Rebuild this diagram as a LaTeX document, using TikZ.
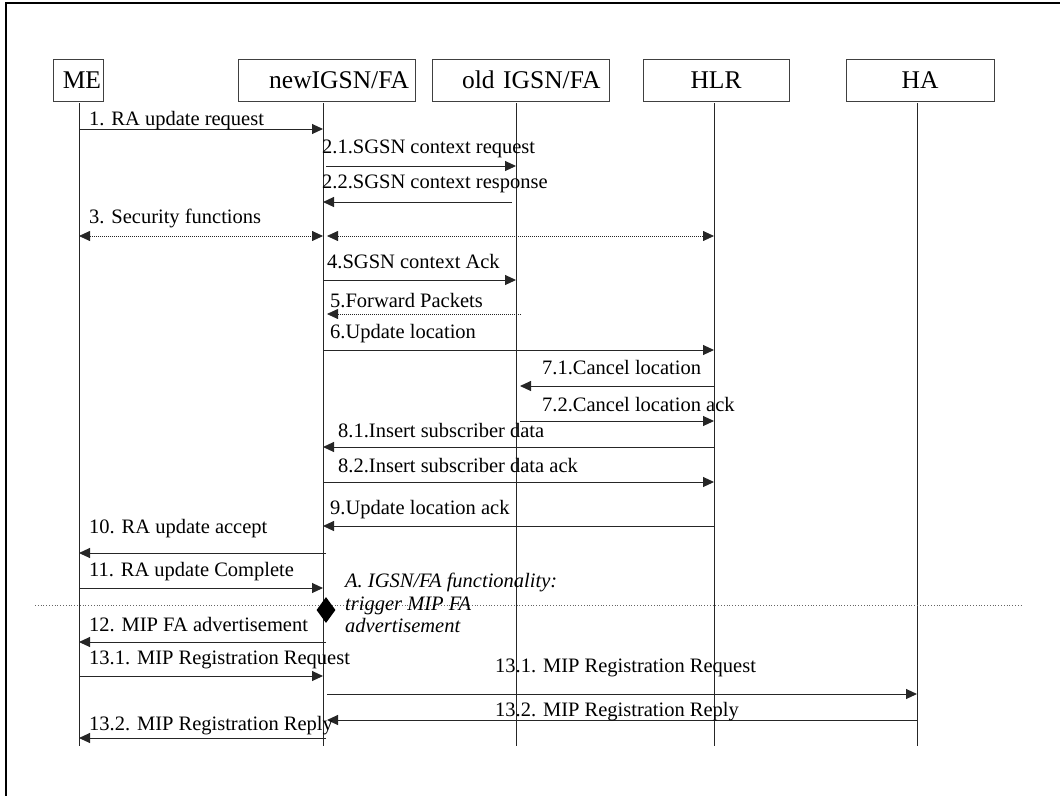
\documentclass[tikz,border=0pt]{standalone}
\usepackage{fontspec}
\setmainfont{Liberation Serif}
\usetikzlibrary{arrows.meta,shapes.geometric}

\begin{document}
\begin{tikzpicture}[x=1pt,y=-1pt,
	box/.style={draw=black!75,line width=1pt,minimum height=42pt,inner ysep=0pt,font=\fontsize{25.5}{28}\selectfont},
	life/.style={draw=black!85,line width=1pt},
	msg/.style={draw=black!85,line width=1pt,-{Triangle[length=11pt,width=10pt]}},
	dmsg/.style={msg,densely dotted,line width=0.8pt},
	both/.style={dmsg,{Triangle[length=11pt,width=10pt]}-{Triangle[length=11pt,width=10pt]}},
	lbl/.style={anchor=west,inner sep=0pt,font=\fontsize{20.5}{24}\selectfont},
	note/.style={anchor=west,inner sep=0pt,align=left,font=\fontsize{20.5}{22.5}\selectfont\itshape}]
\useasboundingbox (0,0) rectangle (1060,796);
\draw[line width=2.5pt] (1060,3) -- (6,3) -- (6,796);

% entities
\node[box,text width=46pt,inner xsep=2pt,align=right]		(me)	at (78,80)		{ME};
\node[box,text width=165pt,inner xsep=6pt,align=right]		(nw)	at (326.5,80)	{newIGSN/FA};
\node[box,text width=160pt,inner xsep=8.5pt,align=right]	(old)	at (520.5,80)	{old IGSN/FA};
\node[box,minimum width=146pt]								(hlr)	at (716,80)		{HLR};
\node[box,minimum width=148pt]								(ha)	at (920,80)		{HA};

\coordinate (lme)	at (79,103);
\coordinate (lnw)	at (323,103);
\coordinate (lold)	at (516,103);
\coordinate (lhlr)	at (714,103);
\coordinate (lha)	at (917,103);
\foreach \l in {lme,lnw,lold,lhlr,lha}
	\draw[life] (\l) -- (\l |- 0,746);

% messages
\draw[msg]	(lme |- 0,129)					-- (lnw |- 0,129);
\node[lbl]	(m1)	at (89,121)		{1. RA update request};
\draw[msg]	([xshift=3pt]lnw |- 0,166)		-- (lold |- 0,166);
\node[lbl]	(m21)	at (322,149)	{2.1.SGSN context request};
\draw[msg]	([xshift=-4pt]lold |- 0,202)	-- (lnw |- 0,202);
\node[lbl]	(m22)	at (322,184)	{2.2.SGSN context response};
\draw[both]	(lme |- 0,236)					-- (lnw |- 0,236);
\draw[both]	([xshift=4pt]lnw |- 0,236)		-- (lhlr |- 0,236);
\node[lbl]	(m3)	at (89,218)		{3. Security functions};
\draw[msg]	(lnw |- 0,280)					-- (lold |- 0,280);
\node[lbl]	(m4)	at (327,262)	{4.SGSN context Ack};
\draw[dmsg]	([xshift=5pt]lold |- 0,314)		-- ([xshift=4pt]lnw |- 0,314);
\node[lbl]	(m5)	at (330,301)	{5.Forward Packets};
\draw[msg]	(lnw |- 0,350)					-- (lhlr |- 0,350);
\node[lbl]	(m6)	at (330,334)	{6.Update location};
\draw[msg]	(lhlr |- 0,386)					-- ([xshift=4pt]lold |- 0,386);
\node[lbl]	(m71)	at (542,368)	{7.1.Cancel location};
\draw[msg]	([xshift=4pt]lold |- 0,421)		-- (lhlr |- 0,421);
\node[lbl]	(m72)	at (542,405)	{7.2.Cancel location ack};
\draw[msg]	(lhlr |- 0,447)					-- (lnw |- 0,447);
\node[lbl]	(m81)	at (338,431)	{8.1.Insert subscriber data};
\draw[msg]	(lnw |- 0,482)					-- (lhlr |- 0,482);
\node[lbl]	(m82)	at (338,466)	{8.2.Insert subscriber data ack};
\draw[msg]	(lhlr |- 0,526)					-- (lnw |- 0,526);
\node[lbl]	(m9)	at (330,510)	{9.Update location ack};
\draw[msg]	([xshift=3pt]lnw |- 0,553)		-- (lme |- 0,553);
\node[lbl]	(m10)	at (89,529)		{10. RA update accept};
\draw[msg]	(lme |- 0,588)					-- (lnw |- 0,588);
\node[lbl]	(m11)	at (89,572)		{11. RA update Complete};

% MIP part
\draw[black!60,dotted,line width=0.8pt] (35,605) coordinate (cut) -- (1021,605);
\node[diamond,fill,minimum width=19pt,minimum height=26pt,inner sep=0pt]	(trig)	at (326,610)	{};
\node[note]	(fa)	at (345,603)	{A. IGSN/FA functionality:\\trigger MIP FA\\advertisement};
\draw[msg]	([xshift=3pt]lnw |- 0,642)		-- (lme |- 0,642);
\node[lbl]	(m12)	at (89,625)		{12. MIP FA advertisement};
\draw[msg]	(lme |- 0,676)					-- (lnw |- 0,676);
\node[lbl]	(m131)	at (89,660)		{13.1. MIP Registration Request};
\draw[msg]	([xshift=4pt]lnw |- 0,694)		-- (lha |- 0,694);
\node[lbl]	(m131h)	at (495,668)	{13.1. MIP Registration Request};
\draw[msg]	(lha |- 0,720)					-- ([xshift=4pt]lnw |- 0,720);
\node[lbl]	(m132h)	at (495,712)	{13.2. MIP Registration Reply};
\draw[msg]	([xshift=3pt]lnw |- 0,738)		-- (lme |- 0,738);
\node[lbl]	(m132)	at (89,726)		{13.2. MIP Registration Reply};
\end{tikzpicture}
\end{document}
